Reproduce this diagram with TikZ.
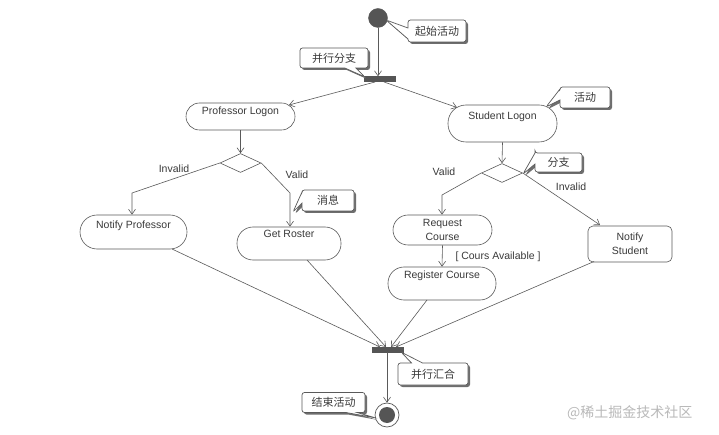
\documentclass[tikz,border=0pt]{standalone}
\usepackage{fontspec}
\setmainfont{Liberation Sans}
\newfontfamily\cjk{Noto Sans CJK SC}
\usetikzlibrary{arrows.meta,shapes.geometric,shapes.callouts,shadows}
\definecolor{linec}{HTML}{5A5A5A}
\definecolor{textc}{HTML}{3A3A3A}
\definecolor{fillc}{HTML}{555555}
\definecolor{shadowc}{HTML}{6E6E6E}
\begin{document}
\begin{tikzpicture}[x=1pt,y=-1pt,
  line/.style={draw=linec, line width=0.6pt},
  arr/.style={line, -{Straight Barb[length=5pt,width=7pt]}},
  act/.style={draw=linec, line width=0.6pt, fill=white, inner sep=0pt, text=textc,
              font=\fontsize{10.5}{14}\selectfont},
  up/.style={text height=7.5pt, text depth=#1},
  bar/.style={draw=fillc, fill=fillc, minimum width=31pt, minimum height=5pt, inner sep=0pt},
  dec/.style={diamond, draw=linec, line width=0.6pt, fill=white, aspect=2.1, inner sep=0pt,
              minimum width=41pt, minimum height=19pt},
  lbl/.style={text=textc, font=\fontsize{10.5}{13}\selectfont, inner sep=0pt},
  callout/.style={rectangle callout, draw=linec, line width=0.7pt, fill=white,
              rounded corners=2.5pt, text=textc, font=\cjk\fontsize{11}{13}\selectfont,
              inner sep=0pt, callout pointer width=11pt,
              drop shadow={shadow xshift=2pt, shadow yshift=-2pt, fill=shadowc, opacity=1}}
]
\useasboundingbox[fill=white] (0,0) rectangle (719,435);

% start and fork
\node[circle, fill=fillc, draw=fillc, minimum size=19pt, inner sep=0pt] (start) at (378,18) {};
\node[bar] (fork) at (380,79) {};
\draw[arr] (start.south) -- (start.south |- fork.north);

% activities
\node[act, minimum width=109pt, minimum height=27pt, rounded corners=13.5pt, up=11pt] (pl) at (240.5,116.5) {Professor Logon};
\node[act, minimum width=109pt, minimum height=37pt, rounded corners=18pt, up=15pt] (sl) at (502.5,123.5) {Student Logon};
\node[dec] (d1) at (240.5,163) {};
\node[dec] (d2) at (502,173) {};
\node[act, minimum width=107pt, minimum height=34pt, rounded corners=17pt, up=14pt] (np) at (133.5,232) {Notify Professor};
\node[act, minimum width=104pt, minimum height=33pt, rounded corners=16pt, up=19pt] (gr) at (289,243.5) {Get Roster};
\node[act, minimum width=99pt, minimum height=30pt, rounded corners=15pt, align=center] (rq) at (442.5,230) {Request\\Course};
\node[act, minimum width=108pt, minimum height=33pt, rounded corners=16pt, up=17pt] (rc) at (442,283.5) {Register Course};
\node[act, minimum width=84pt, minimum height=36pt, rounded corners=5pt, align=center] (ns) at (630,244) {Notify\\Student};
\node[bar] (join) at (388,349.5) {};
\node[circle, draw=linec, line width=0.7pt, fill=white, minimum size=24pt, inner sep=0pt] (end) at (387,415) {};
\node[circle, fill=fillc, minimum size=16pt, inner sep=0pt] (endin) at (end.center) {};

% fork connectors
\coordinate (fo1) at (375,82);
\coordinate (fo2) at (384,82);
\coordinate (plin) at (289,105);
\coordinate (slin) at (457,107.5);
\draw[arr] (fo1) -- (plin);
\draw[arr] (fo2) -- (slin);
\draw[arr] (pl.south) -- (d1.north);
\draw[arr] (sl.south) -- (d2.north);

% branches
\coordinate (b1) at (132,193);
\coordinate (b2) at (290,193);
\coordinate (b3) at (442,195);
\coordinate (nsin) at (600,225);
\draw[arr] (d1.west) -- (b1) -- (b1 |- np.north);
\draw[arr] (d1.east) -- (b2) -- (b2 |- gr.north);
\draw[arr] (d2.west) -- (b3) -- (b3 |- rq.north);
\draw[arr] (d2.east) -- (nsin);
\draw[arr] (rq.south) -- (rc.north);

\node[lbl] (l1) at (174,169) {Invalid};
\node[lbl] (l2) at (297,175) {Valid};
\node[lbl] (l3) at (444,172) {Valid};
\node[lbl] (l4) at (571,187) {Invalid};
\node[lbl] (l5) at (498,257) {[ Cours Available ]};

% join connectors
\coordinate (s1) at (172,249);
\coordinate (s2) at (307,260);
\coordinate (s3) at (427,300);
\coordinate (s4) at (594,261.5);
\coordinate (j1) at (380,347);
\coordinate (j2) at (386,347);
\coordinate (j3) at (391,347);
\coordinate (j4) at (396,347);
\draw[arr] (s1) -- (j1);
\draw[arr] (s2) -- (j2);
\draw[arr] (s3) -- (j3);
\draw[arr] (s4) -- (j4);
\draw[arr] (join.south -| end) -- (end.north);

% callouts
\coordinate (t1) at (386,20);
\coordinate (t2) at (365,77);
\coordinate (t3) at (546,107);
\coordinate (t4) at (293,212);
\coordinate (t5) at (523,174);
\coordinate (t6) at (401,352);
\coordinate (t7) at (376,418);
\node[callout, minimum width=58pt, minimum height=22pt, callout absolute pointer={(t1)}] (c1) at (437,31) {起始活动};
\node[callout, minimum width=68pt, minimum height=20pt, callout absolute pointer={(t2)}] (c2) at (334,58) {并行分支};
\node[callout, minimum width=50pt, minimum height=21pt, callout absolute pointer={(t3)}] (c3) at (585,97.5) {活动};
\node[callout, minimum width=52pt, minimum height=21pt, callout absolute pointer={(t4)}] (c4) at (328,200.5) {消息};
\node[callout, minimum width=47pt, minimum height=19pt, callout absolute pointer={(t5)}] (c5) at (558.5,162.5) {分支};
\node[callout, minimum width=70pt, minimum height=22pt, callout absolute pointer={(t6)}] (c6) at (433,374) {并行汇合};
\node[callout, minimum width=63pt, minimum height=20pt, callout absolute pointer={(t7)}] (c7) at (333.5,402.5) {结束活动};

% watermark
\node[anchor=west, text=gray!55, font=\cjk\fontsize{14}{16}\selectfont, inner sep=0pt] (wm) at (567,413) {@稀土掘金技术社区};
\end{tikzpicture}
\end{document}
